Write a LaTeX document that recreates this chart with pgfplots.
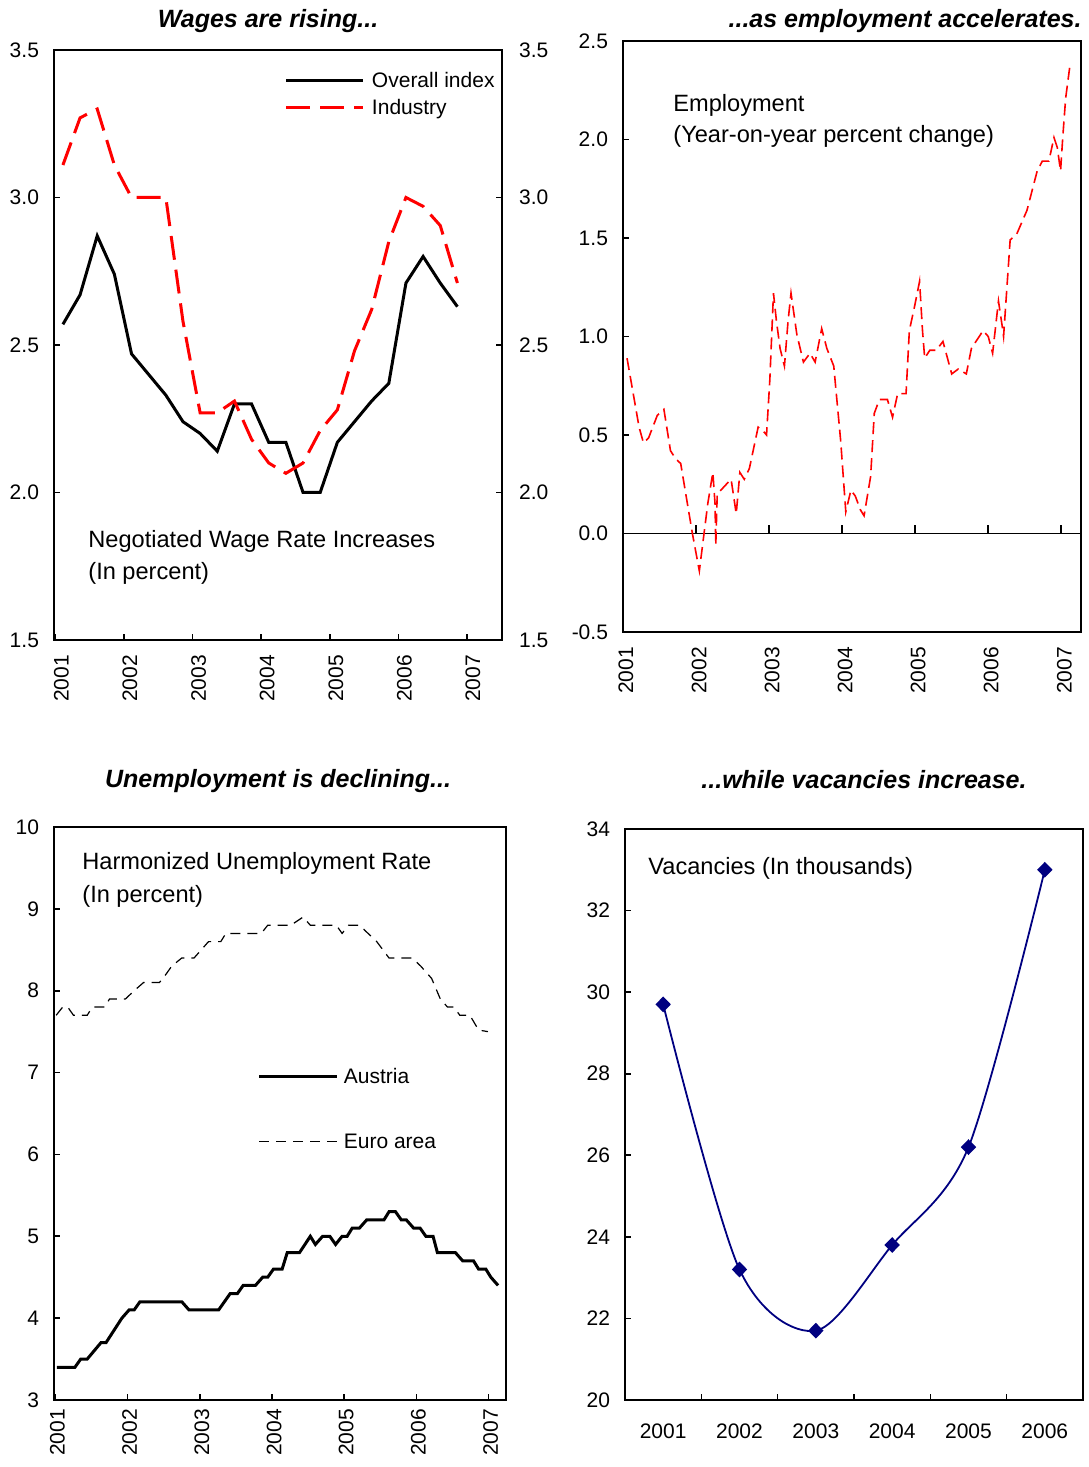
\documentclass[border=0pt]{standalone}
\usepackage{fontspec}
\setmainfont{Liberation Sans}
\usepackage{pgfplots}
\pgfplotsset{compat=1.18}
\definecolor{navyblue}{RGB}{0,0,128}

\newcommand{\tickfont}{\fontsize{10.5}{12}\selectfont}
\newcommand{\notefont}{\fontsize{11.8}{14}\selectfont}
\newcommand{\titlefont}{\fontsize{12.5}{15}\selectfont\bfseries\itshape}

\pgfplotsset{
  base/.style={
    scale only axis,
    anchor=south west,
    axis line style={line width=0.8pt},
    tick style={line width=0.8pt, black},
    tick align=inside,
    major tick length=3pt,
    tick label style={font=\tickfont},
    /pgf/number format/assume math mode=true,
  },
  onedec/.style={yticklabel style={/pgf/number format/fixed, /pgf/number format/fixed zerofill, /pgf/number format/precision=1}},
  years/.style={
    xtick={2001,2002,2003,2004,2005,2006,2007},
    xticklabels={2001,2002,2003,2004,2005,2006,2007},
  },
}

\begin{document}
\begin{tikzpicture}

% ---------------- Panel 1: wages ----------------
\begin{axis}[base, onedec, years, at={(27pt,413.5pt)}, width=224pt, height=295pt,
  xmin=2000.98, xmax=2007.51, ymin=1.5, ymax=3.5,
  ytick={1.5,2.0,2.5,3.0,3.5}, tick pos=left,
  yticklabel style={xshift=-4pt},
  xticklabel style={xshift=3pt, yshift=-4pt, rotate=90, anchor=east},
  legend style={at={(0.5156,0.9627)}, anchor=north west, draw=none, fill=none,
    inner sep=0pt, outer sep=0pt, font=\tickfont,
    nodes={inner sep=0pt, text height=8pt, text depth=2.5pt, anchor=base west},
    row sep=3pt, column sep=3.5pt},
  legend image code/.code={\draw[#1] (0pt,3.5pt) -- (38.5pt,3.5pt);},
]
\addplot[black, line width=1.5pt] table {
x y
2001.11 2.57
2001.36 2.67
2001.61 2.87
2001.86 2.74
2002.11 2.47
2002.36 2.40
2002.61 2.33
2002.86 2.24
2003.11 2.20
2003.36 2.14
2003.61 2.30
2003.86 2.30
2004.11 2.17
2004.36 2.17
2004.61 2.00
2004.86 2.00
2005.11 2.17
2005.36 2.24
2005.61 2.31
2005.86 2.37
2006.11 2.71
2006.36 2.80
2006.61 2.71
2006.86 2.63
};
\addlegendentry{Overall index}
\addplot[red, line width=1.5pt, dash pattern=on 12pt off 5pt] table {
x y
2001.11 3.11
2001.36 3.27
2001.61 3.30
2001.86 3.11
2002.11 3.00
2002.36 3.00
2002.61 3.00
2002.86 2.58
2003.11 2.27
2003.36 2.27
2003.61 2.31
2003.86 2.18
2004.11 2.10
2004.36 2.065
2004.61 2.10
2004.86 2.21
2005.11 2.28
2005.36 2.48
2005.61 2.62
2005.86 2.85
2006.11 3.00
2006.36 2.97
2006.61 2.905
2006.86 2.71
};
\addlegendentry{Industry}
\end{axis}
\begin{axis}[base, onedec, at={(27pt,413.5pt)}, width=224pt, height=295pt,
  xmin=2000.98, xmax=2007.51, ymin=1.5, ymax=3.5,
  ytick={1.5,2.0,2.5,3.0,3.5},
  axis x line=none, axis y line*=right, tick align=inside,
  yticklabel style={xshift=5pt},
]
\end{axis}

% ---------------- Panel 2: employment ----------------
\begin{axis}[base, onedec, years, at={(311.5pt,417.5pt)}, width=229pt, height=295.5pt,
  xmin=2001, xmax=2007.27, ymin=-0.5, ymax=2.5, tick pos=left,
  ytick={-0.5,0,0.5,1.0,1.5,2.0,2.5},
  yticklabel style={xshift=-4pt},
  xticklabel style={xshift=1.5pt, yshift=-4pt, rotate=90, anchor=east},
  major x tick style={draw=none},
  extra y ticks={0}, extra y tick labels={},
  extra y tick style={grid=major, major grid style={black, line width=0.8pt}},
]
\addplot[red, line width=0.8pt, dash pattern=on 6pt off 3pt] table {
x y
2001.055 0.89
2001.22 0.54
2001.28 0.46
2001.35 0.485
2001.47 0.60
2001.56 0.63
2001.65 0.42
2001.72 0.38
2001.79 0.355
2001.95 0.0
2002.045 -0.19
2002.16 0.15
2002.23 0.31
2002.26 0.15
2002.27 -0.06
2002.29 0.20
2002.44 0.26
2002.48 0.275
2002.55 0.10
2002.60 0.31
2002.66 0.275
2002.73 0.33
2002.85 0.54
2002.92 0.52
2002.965 0.50
2003.01 0.78
2003.06 1.22
2003.10 1.08
2003.15 0.94
2003.21 0.85
2003.26 1.08
2003.30 1.22
2003.38 1.01
2003.47 0.87
2003.56 0.915
2003.63 0.87
2003.72 1.04
2003.79 0.94
2003.885 0.85
2003.98 0.47
2004.05 0.11
2004.12 0.22
2004.18 0.19
2004.25 0.12
2004.30 0.09
2004.39 0.29
2004.44 0.61
2004.51 0.68
2004.62 0.68
2004.69 0.59
2004.76 0.71
2004.875 0.71
2004.92 1.03
2004.99 1.15
2005.06 1.28
2005.10 1.03
2005.13 0.89
2005.20 0.93
2005.29 0.93
2005.38 0.975
2005.50 0.81
2005.59 0.835
2005.70 0.81
2005.77 0.94
2005.93 1.03
2006.00 1.00
2006.06 0.915
2006.14 1.18
2006.19 1.055
2006.21 1.00
2006.30 1.49
2006.39 1.52
2006.53 1.64
2006.67 1.84
2006.74 1.89
2006.83 1.89
2006.90 2.01
2006.945 1.96
2006.99 1.84
2007.02 2.01
2007.06 2.21
2007.12 2.38
};
\pgfplotsinvokeforeach{2002,2003,2004,2005,2006,2007}{
  \draw[line width=0.8pt] (axis cs:#1,0) -- ([yshift=4pt]axis cs:#1,0);
}
\end{axis}

% ---------------- Panel 3: unemployment ----------------
\begin{axis}[base, years, at={(27pt,33.5pt)}, width=226pt, height=286.5pt,
  xmin=2000.98, xmax=2007.24, ymin=3, ymax=10, tick pos=left,
  ytick={3,4,5,6,7,8,9,10},
  yticklabel style={xshift=-4pt},
  xticklabel style={xshift=1pt, yshift=-1pt, rotate=90, anchor=east},
  legend style={at={(0.451,0.580)}, anchor=north west, draw=none, fill=none,
    inner sep=0pt, outer sep=0pt, font=\tickfont,
    nodes={inner sep=0pt, text height=8pt, text depth=2.5pt, anchor=base west},
    row sep=22pt, column sep=2.5pt},
  legend image code/.code={\draw[#1] (0pt,3.5pt) -- (39pt,3.5pt);},
]
\addplot[black, line width=1.5pt] table {
x y
2001.02 3.4
2001.27 3.4
2001.35 3.5
2001.44 3.5
2001.63 3.7
2001.70 3.7
2001.92 4.0
2002.02 4.1
2002.09 4.1
2002.17 4.2
2002.75 4.2
2002.85 4.1
2003.26 4.1
2003.42 4.3
2003.52 4.3
2003.60 4.4
2003.77 4.4
2003.87 4.5
2003.94 4.5
2004.02 4.6
2004.14 4.6
2004.21 4.8
2004.38 4.8
2004.53 5.0
2004.60 4.9
2004.70 5.0
2004.80 5.0
2004.88 4.9
2004.97 5.0
2005.04 5.0
2005.11 5.1
2005.21 5.1
2005.31 5.2
2005.55 5.2
2005.62 5.3
2005.71 5.3
2005.79 5.2
2005.86 5.2
2005.96 5.1
2006.05 5.1
2006.13 5.0
2006.23 5.0
2006.29 4.8
2006.54 4.8
2006.64 4.7
2006.79 4.7
2006.86 4.6
2006.96 4.6
2007.03 4.5
2007.13 4.4
};
\addlegendentry{Austria}
\addplot[black, line width=0.6pt, dash pattern=on 5pt off 3.5pt] table {
x y
2001.01 7.7
2001.10 7.8
2001.17 7.8
2001.25 7.7
2001.44 7.7
2001.51 7.8
2001.68 7.8
2001.75 7.9
2001.97 7.9
2002.09 8.0
2002.22 8.1
2002.44 8.1
2002.53 8.2
2002.61 8.3
2002.75 8.4
2002.92 8.4
2003.12 8.6
2003.29 8.6
2003.36 8.7
2003.85 8.7
2003.94 8.8
2004.26 8.8
2004.43 8.9
2004.53 8.8
2004.89 8.8
2004.97 8.7
2005.06 8.8
2005.21 8.8
2005.33 8.7
2005.45 8.6
2005.62 8.4
2005.94 8.4
2006.06 8.3
2006.21 8.15
2006.33 7.9
2006.43 7.8
2006.52 7.8
2006.60 7.7
2006.74 7.7
2006.86 7.52
2006.99 7.5
};
\addlegendentry{Euro area}
\end{axis}

% ---------------- Panel 4: vacancies ----------------
\begin{axis}[base, at={(312.5pt,33.5pt)}, width=229pt, height=285.5pt,
  xmin=-0.5, xmax=5.5, ymin=20, ymax=34, tick pos=left,
  ytick={20,22,24,26,28,30,32,34},
  yticklabel style={xshift=-4pt},
  xtick={0,1,2,3,4,5}, xticklabels={2001,2002,2003,2004,2005,2006},
  major x tick style={draw=none},
  minor xtick={0.5,1.5,2.5,3.5,4.5}, minor tick length=3pt,
  minor x tick style={line width=0.8pt},
  xticklabel style={yshift=-8.5pt},
]
\addplot[navyblue, line width=0.9pt, smooth, mark=diamond*, mark size=3.3pt,
  mark options={solid, fill=navyblue, xscale=1.3}] coordinates {
(0,29.7) (1,23.2) (2,21.7) (3,23.8) (4,26.2) (5,33.0)
};
\end{axis}

% ---------------- Titles and notes ----------------
\node[anchor=base, font=\titlefont, inner sep=0pt] at (134pt,719.5pt) {Wages are rising...};
\node[anchor=base east, font=\titlefont, inner sep=0pt] at (541pt,719.5pt) {...as employment accelerates.};
\node[anchor=base, font=\titlefont, inner sep=0pt] at (139pt,339.5pt) {Unemployment is declining...};
\node[anchor=base, font=\titlefont, inner sep=0pt] at (432pt,339pt) {...while vacancies increase.};

\node[anchor=base west, font=\notefont, inner sep=0pt] at (44pt,459.5pt) {Negotiated Wage Rate Increases};
\node[anchor=base west, font=\notefont, inner sep=0pt] at (44pt,443.5pt) {(In percent)};
\node[anchor=base west, font=\notefont, inner sep=0pt] at (336.5pt,677.5pt) {Employment};
\node[anchor=base west, font=\notefont, inner sep=0pt] at (336.5pt,662pt) {(Year-on-year percent change)};
\node[anchor=base west, font=\notefont, inner sep=0pt] at (41pt,298.5pt) {Harmonized Unemployment Rate};
\node[anchor=base west, font=\notefont, inner sep=0pt] at (41pt,282pt) {(In percent)};
\node[anchor=base west, font=\notefont, inner sep=0pt] at (324pt,296pt) {Vacancies (In thousands)};

\pgfresetboundingbox
\path (0pt,0pt) rectangle (544pt,733.5pt);
\end{tikzpicture}
\end{document}
